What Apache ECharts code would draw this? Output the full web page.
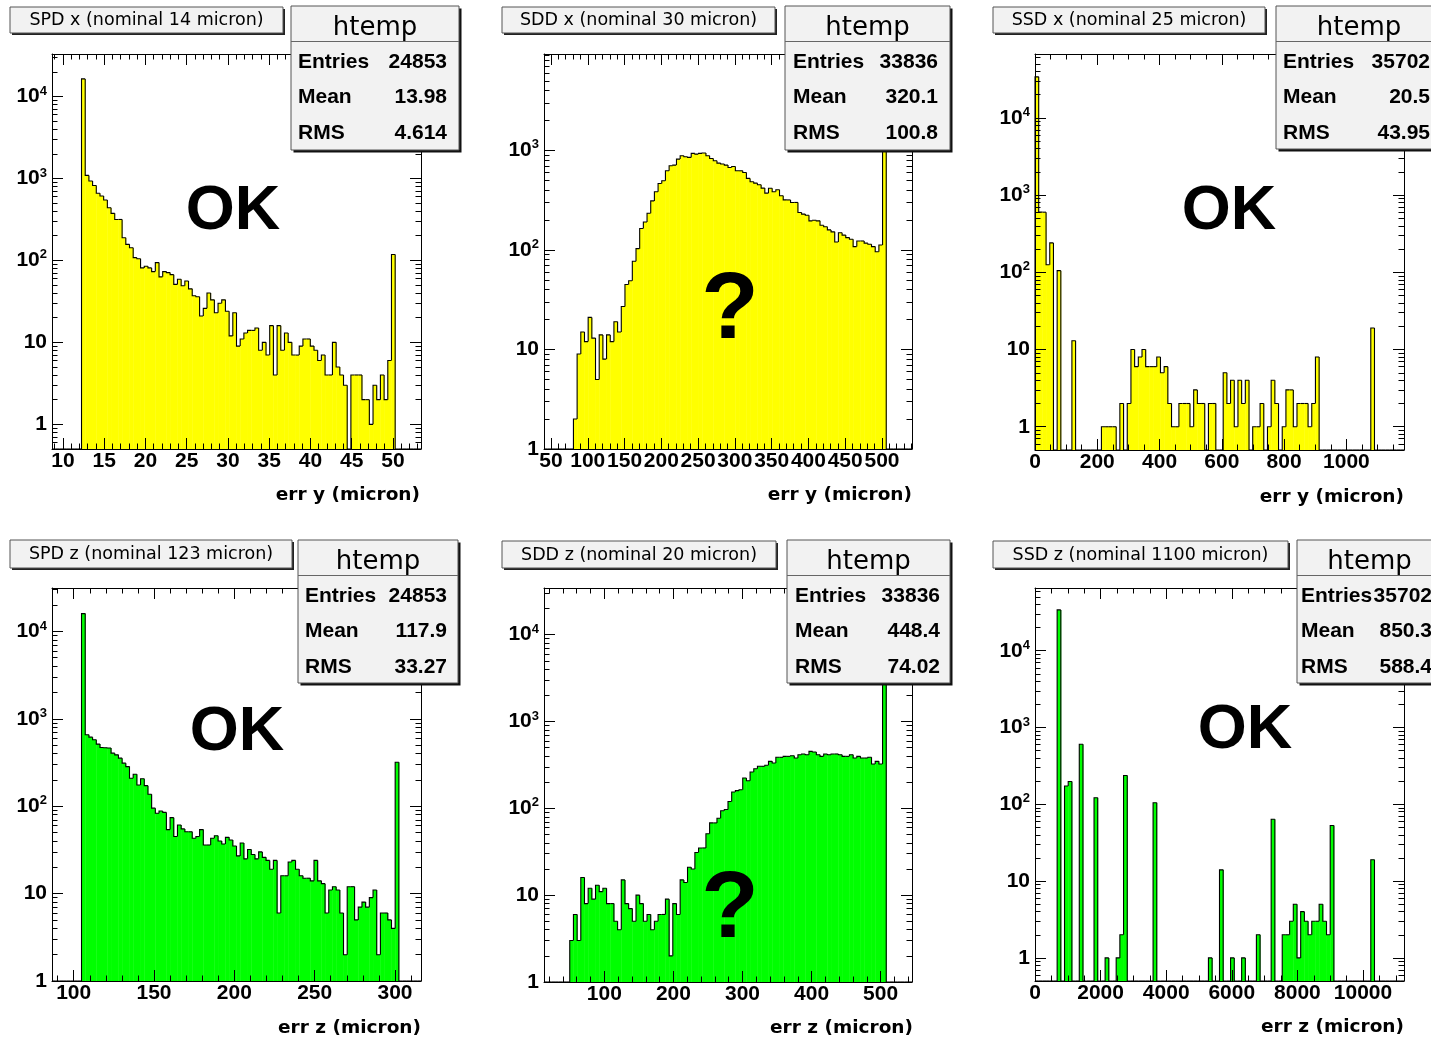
<!DOCTYPE html>
<html>
<head>
<meta charset="utf-8">
<script src="https://cdn.jsdelivr.net/npm/echarts@6/dist/echarts.min.js"></script>
<style>
  html, body { margin: 0; padding: 0; background: #fff; }
  #chart { width: 1431px; height: 1039px; }
</style>
</head>
<body>
<div id="chart"></div>
<script>
// ---- Fonts ----
const FONT_TICK = 'Liberation Sans, Arial, Helvetica, sans-serif';
const FONT_TEXT = 'DejaVu Sans, Verdana, sans-serif';

// ---- Panel texts ----
const panelTitles = [
  'SPD x (nominal 14 micron)', 'SDD x (nominal 30 micron)', 'SSD x (nominal 25 micron)',
  'SPD z (nominal 123 micron)', 'SDD z (nominal 20 micron)', 'SSD z (nominal 1100 micron)'
];
const axisTitles = ['err y (micron)', 'err y (micron)', 'err y (micron)',
                    'err z (micron)', 'err z (micron)', 'err z (micron)'];
const verdicts = ['OK', '?', 'OK', 'OK', '?', 'OK'];
const statEntries = ['24853', '33836', '35702', '24853', '33836', '35702'];
const statMean = ['13.98', '320.1', '20.5', '117.9', '448.4', '850.3'];
const statRms = ['4.614', '100.8', '43.95', '33.27', '74.02', '588.4'];

// ---- Axis ranges and tick labels ----
const xRanges = [[8.67, 53.4], [40.5, 540.8], [0, 1185], [86.5, 316.2], [12.6, 545.4], [0, 11250]];
const yRanges = [[0.5, 33000], [1, 9300], [0.5, 67000], [1, 31400], [1, 34500], [0.5, 65600]];
const xTickLabels = [
  [10, 15, 20, 25, 30, 35, 40, 45, 50],
  [50, 100, 150, 200, 250, 300, 350, 400, 450, 500],
  [0, 200, 400, 600, 800, 1000],
  [100, 150, 200, 250, 300],
  [100, 200, 300, 400, 500],
  [0, 2000, 4000, 6000, 8000, 10000]
];
const xMinorSteps = [1, 10, 50, 10, 20, 500];

// ---- Bin contents (100 bins spanning each x range) ----
const spdXCounts = [
  0, 0, 0, 0, 0, 0, 0, 0, 16400,
  1090, 930, 820, 660, 610, 545, 440, 375, 316, 316,
  189, 157, 143, 108, 105, 81, 85, 81, 73, 94,
  63, 73, 71, 67, 51, 59, 49, 56, 45, 37,
  36, 21, 26, 40, 33, 23, 30, 33, 24, 12,
  23, 9, 11, 13, 14, 14, 15, 8, 10, 7,
  16, 4, 16, 8, 13, 10, 7, 7, 9, 11,
  11, 9, 8, 6, 7, 4, 4, 10, 5, 4, 3,
  0,
  4, 4, 4, 2, 2, 1, 3, 2, 4, 2, 6,
  118,
  0, 0, 0, 0, 0, 0, 0
];
const sddXCounts = [
  0, 0, 0, 0, 0, 0, 0, 0,
  2, 9, 15, 12, 21, 13, 5, 14, 8, 14,
  12, 19, 15, 27, 45, 49, 77, 103, 164, 191,
  234, 311, 384, 465, 495, 624, 701, 712, 818, 883,
  863, 850, 933, 918, 933, 941, 883, 830, 787, 745,
  729, 712, 674, 690, 624, 624, 600, 523, 484, 469,
  451, 418, 372, 417, 384, 402, 350, 318, 318, 300,
  300, 238, 229, 223, 196, 199, 196, 177, 171, 159,
  152, 120, 149, 141, 133, 128, 108, 123, 123, 117,
  114, 108, 96, 112,
  5000,
  0, 0, 0, 0, 0, 0, 0
];
const ssdXCounts = [
  33900, 600, 600, 125, 240, 0, 105, 0, 0, 0,
  13, 0, 0, 0, 0, 0, 0, 0, 1, 1,
  1, 1, 0, 2, 0, 2, 10, 6, 8, 10,
  6, 6, 6, 8, 5, 6, 2, 1, 1, 2,
  2, 2, 1, 3, 2, 2, 0, 2, 2, 0,
  0, 5, 2, 4, 1, 4, 2, 4, 0, 1,
  1, 2, 0, 1, 4, 2, 0, 1, 3, 3,
  1, 2, 2, 2, 1, 2, 8, 0, 0, 0,
  0, 0, 0, 0, 0, 0, 0, 0, 0, 0,
  0, 19, 0, 0, 0, 0, 0, 0, 0, 0
];
const spdZCounts = [
  0, 0, 0, 0, 0, 0, 0, 0, 16000,
  656, 617, 576, 514, 470, 466, 464, 405, 387, 355,
  311, 284, 209, 232, 175, 206, 172, 137, 95, 83,
  88, 85, 54, 74, 45, 61, 55, 51, 51, 43,
  45, 54, 36, 36, 43, 46, 40, 37, 44, 41,
  35, 27, 38, 25, 32, 28, 25, 30, 26, 24,
  19, 24, 6, 16, 16, 23, 24, 19, 16, 15,
  15, 14, 24, 14, 13, 6, 11, 12, 11, 6,
  2, 12, 12, 5, 7, 8, 7, 9, 11, 2,
  6, 6, 5, 4,
  319,
  0, 0, 0, 0, 0, 0
];
const sddZCounts = [
  0, 0, 0, 0, 0, 0, 0,
  3, 6, 3, 16, 8, 12, 9, 13, 11, 12,
  8, 8, 5, 4, 15, 8, 7, 5, 10, 8,
  5, 6, 4, 5, 6, 6, 9, 2, 8, 6,
  15, 14, 21, 20, 31, 35, 35, 51, 68, 68,
  77, 94, 97, 120, 154, 160, 164, 224, 208, 262,
  286, 305, 305, 313, 348, 333, 387, 387, 397, 397,
  404, 380, 415, 423, 415, 453, 445, 415, 397, 423,
  415, 423, 423, 415, 397, 397, 415, 380, 397, 380,
  380, 387, 324, 348, 324,
  18000,
  0, 0, 0, 0, 0, 0, 0
];
const ssdZCounts = [
  0, 0, 0, 0, 0, 0, 34000, 0, 173, 198,
  0, 0, 606, 0, 0, 0, 122, 0, 0, 1,
  0, 0, 1, 2, 237, 0, 0, 0, 0, 0,
  0, 0, 105, 0, 0, 0, 0, 0, 0, 0,
  0, 0, 0, 0, 0, 0, 0, 1, 0, 0,
  14, 0, 0, 1, 0, 0, 1, 0, 0, 0,
  2, 0, 0, 0, 64, 0, 0, 2, 2, 3,
  5, 1, 4, 3, 2, 3, 3, 5, 3, 2,
  53, 0, 0, 0, 0, 0, 0, 0, 0, 0,
  0, 19, 0, 0, 0, 0, 0, 0, 0, 0
];

const panelCounts = [spdXCounts, sddXCounts, ssdXCounts, spdZCounts, sddZCounts, ssdZCounts];
const fillColors = ['#ffff00', '#ffff00', '#ffff00', '#00ff00', '#00ff00', '#00ff00'];

// ---- Page layout (pixels) ----
const layout = [
  { grid: [52, 54, 369, 395],  title: [10, 7, 273, 26],   stats: [291, 6, 168, 144],   labelX: 298,  valueX: 447,  verdict: [233, 212],  axisTitle: [420, 495] },
  { grid: [544, 54, 368, 395], title: [502, 7, 273, 26],  stats: [785, 6, 165, 144],   labelX: 793,  valueX: 938,  verdict: [730, 312],  axisTitle: [912, 495] },
  { grid: [1035, 54, 369, 396], title: [993, 7, 272, 26], stats: [1276, 6, 166, 143],  labelX: 1283, valueX: 1430, verdict: [1229, 212], axisTitle: [1404, 497] },
  { grid: [52, 588, 369, 393], title: [10, 540, 282, 28], stats: [298, 540, 160, 143], labelX: 305,  valueX: 447,  verdict: [237, 733],  axisTitle: [421, 1028] },
  { grid: [544, 588, 368, 394], title: [502, 541, 274, 27], stats: [787, 540, 163, 143], labelX: 795, valueX: 940,  verdict: [730, 911],  axisTitle: [913, 1028] },
  { grid: [1035, 588, 369, 393], title: [993, 541, 295, 27], stats: [1297, 540, 145, 143], labelX: 1301, valueX: 1432, verdict: [1245, 731], axisTitle: [1404, 1027] }
];

// ---- Tick helpers ----
function linearMinorTicks(range, step, majors) {
  const out = [];
  const first = Math.ceil(range[0] / step - 1e-9);
  const last = Math.floor(range[1] / step + 1e-9);
  for (let k = first; k <= last; k++) {
    const v = +(k * step).toFixed(6);
    if (!majors.some(m => Math.abs(m - v) < step * 1e-6)) out.push(v);
  }
  return out;
}
function logMajorTicks(range) {
  const out = [];
  for (let e = Math.floor(Math.log10(range[0])); e <= Math.ceil(Math.log10(range[1])); e++) {
    const v = Math.pow(10, e);
    if (v >= range[0] - 1e-12 && v <= range[1]) out.push(v);
  }
  return out;
}
function logMinorTicks(range) {
  const out = [];
  for (let e = Math.floor(Math.log10(range[0])); e <= Math.ceil(Math.log10(range[1])); e++) {
    for (let k = 2; k <= 9; k++) {
      const v = +(k * Math.pow(10, e)).toPrecision(6);
      if (v >= range[0] && v <= range[1]) out.push(v);
    }
  }
  return out;
}
function decadeLabel(v) {
  const e = Math.round(Math.log10(v));
  if (e === 0) return '1';
  if (e === 1) return '10';
  return '{b|10}{s|' + e + '}';
}
function plainNumber(v) {
  return String(Math.round(v * 1000) / 1000);
}

const tickLabelStyle = { color: '#000', fontFamily: FONT_TICK, fontSize: 21, fontWeight: 'bold' };
const axisLineStyle = { color: '#000', width: 1 };

const grids = [], xAxes = [], yAxes = [], series = [], graphics = [];

layout.forEach((L, i) => {
  const [gl, gt, gw, gh] = L.grid;
  grids.push({ left: gl, top: gt, width: gw, height: gh, containLabel: false, outerBoundsMode: 'none' });

  const xr = xRanges[i], yr = yRanges[i];
  const xMaj = xTickLabels[i];
  const xMin = linearMinorTicks(xr, xMinorSteps[i], xMaj);
  const yMaj = logMajorTicks(yr);
  const yMin = logMinorTicks(yr);

  // x axes: bottom (labels + major), bottom minor, top major, top minor
  [['bottom', true], ['bottom', false], ['top', true], ['top', false]].forEach(([pos, major]) => {
    xAxes.push({
      type: 'value', gridIndex: i, position: pos, min: xr[0], max: xr[1], z: 5,
      axisLine: { show: major, onZero: false, lineStyle: axisLineStyle },
      axisTick: { show: true, inside: true, length: major ? 11 : 5.5, customValues: major ? xMaj : xMin, lineStyle: axisLineStyle },
      axisLabel: Object.assign({ show: major && pos === 'bottom', customValues: xMaj, margin: 2, formatter: plainNumber }, tickLabelStyle),
      splitLine: { show: false }
    });
  });
  // y axes: left (labels + major), left minor, right major, right minor
  [['left', true], ['left', false], ['right', true], ['right', false]].forEach(([pos, major]) => {
    yAxes.push({
      type: 'log', logBase: 10, gridIndex: i, position: pos, min: yr[0], max: yr[1], z: 5,
      axisLine: { show: major, onZero: false, lineStyle: axisLineStyle },
      axisTick: { show: true, inside: true, length: major ? 11 : 5.5, customValues: major ? yMaj : yMin, lineStyle: axisLineStyle },
      axisLabel: Object.assign({
        show: major && pos === 'left', customValues: yMaj, margin: 5,
        formatter: decadeLabel,
        rich: {
          b: { fontFamily: FONT_TICK, fontSize: 21, fontWeight: 'bold', color: '#000', lineHeight: 24 },
          s: { fontFamily: FONT_TICK, fontSize: 13, fontWeight: 'bold', color: '#000', lineHeight: 13, verticalAlign: 'top' }
        }
      }, tickLabelStyle),
      splitLine: { show: false }
    });
  });

  // histogram bins from the counts
  const counts = panelCounts[i];
  const width = (xr[1] - xr[0]) / counts.length;
  const binData = counts.map((c, k) => [
    xr[0] + k * width, xr[0] + (k + 1) * width,
    Math.max(c, yr[0]), c, k > 0 ? counts[k - 1] : 0
  ]);
  const lastIndex = counts.length - 1;
  const fill = fillColors[i];

  series.push({
    type: 'custom', coordinateSystem: 'cartesian2d',
    xAxisIndex: 4 * i, yAxisIndex: 4 * i,
    data: binData, encode: { x: [0, 1], y: 2 },
    silent: true, z: 1,
    renderItem: function (params, api) {
      const lo = api.value(0), hi = api.value(1);
      const c = api.value(3), prev = api.value(4);
      const clampY = v => Math.min(Math.max(v, yr[0]), yr[1]);
      const base = api.coord([lo, yr[0]]);
      const xl = base[0], yb = base[1];
      const xh = api.coord([hi, yr[0]])[0];
      const yt = c > 0 ? api.coord([lo, clampY(c)])[1] : yb;
      const yp = prev > 0 ? api.coord([lo, clampY(prev)])[1] : yb;
      const children = [];
      if (c > 0) {
        children.push({ type: 'rect', shape: { x: xl, y: yt, width: xh - xl + 0.4, height: yb - yt }, style: { fill: fill } });
      }
      const pts = [[xl, yp], [xl, yt], [xh, yt]];
      if (params.dataIndex === lastIndex) pts.push([xh, yb]);
      children.push({ type: 'polyline', shape: { points: pts }, style: { stroke: '#000', lineWidth: 1.1, fill: null } });
      return { type: 'group', children: children };
    }
  });

  // title box
  const [tx, ty, tw, th] = L.title;
  graphics.push({ type: 'rect', z: 20, shape: { x: tx + 2, y: ty + 2, width: tw, height: th }, style: { fill: '#222' } });
  graphics.push({ type: 'rect', z: 21, shape: { x: tx, y: ty, width: tw, height: th }, style: { fill: '#f2f2f2', stroke: '#555', lineWidth: 1 } });
  graphics.push({ type: 'text', z: 22, style: {
    text: panelTitles[i], x: tx + tw / 2, y: ty + th / 2 + 0.5, fill: '#000',
    font: '17.5px ' + FONT_TEXT, textAlign: 'center', textVerticalAlign: 'middle' } });

  // statistics box
  const [sx, sy, sw, sh] = L.stats;
  graphics.push({ type: 'rect', z: 20, shape: { x: sx + 2.5, y: sy + 2.5, width: sw, height: sh }, style: { fill: '#111' } });
  graphics.push({ type: 'rect', z: 21, shape: { x: sx, y: sy, width: sw, height: sh }, style: { fill: '#f2f2f2', stroke: '#555', lineWidth: 1 } });
  graphics.push({ type: 'line', z: 22, shape: { x1: sx, y1: sy + 35.5, x2: sx + sw, y2: sy + 35.5 }, style: { stroke: '#666', lineWidth: 1 } });
  graphics.push({ type: 'text', z: 22, style: {
    text: 'htemp', x: sx + sw / 2, y: sy + 22, fill: '#000',
    font: '26px ' + FONT_TEXT, textAlign: 'center', textVerticalAlign: 'middle' } });
  const rows = [['Entries', statEntries[i]], ['Mean', statMean[i]], ['RMS', statRms[i]]];
  rows.forEach((r, k) => {
    const ry = sy + 56 + k * 35.5;
    graphics.push({ type: 'text', z: 22, style: {
      text: r[0], x: L.labelX, y: ry, fill: '#000',
      font: 'bold 21px ' + FONT_TICK, textAlign: 'left', textVerticalAlign: 'middle' } });
    graphics.push({ type: 'text', z: 22, style: {
      text: r[1], x: L.valueX, y: ry, fill: '#000',
      font: 'bold 21px ' + FONT_TICK, textAlign: 'right', textVerticalAlign: 'middle' } });
  });

  // verdict mark
  const big = verdicts[i] === '?';
  graphics.push({ type: 'text', z: 15, style: {
    text: verdicts[i], x: L.verdict[0], y: L.verdict[1], fill: '#000',
    font: 'bold ' + (big ? 94 : 63) + 'px ' + FONT_TICK, textAlign: 'center', textVerticalAlign: 'middle' } });

  // x axis title
  graphics.push({ type: 'text', z: 15, style: {
    text: axisTitles[i], x: L.axisTitle[0], y: L.axisTitle[1], fill: '#000',
    font: 'bold 18.5px ' + FONT_TEXT, textAlign: 'right', textVerticalAlign: 'middle' } });
});

const chart = echarts.init(document.getElementById('chart'), null, { renderer: 'canvas' });
chart.setOption({
  animation: false,
  backgroundColor: '#ffffff',
  grid: grids,
  xAxis: xAxes,
  yAxis: yAxes,
  series: series,
  graphic: { elements: graphics }
});
</script>
</body>
</html>
